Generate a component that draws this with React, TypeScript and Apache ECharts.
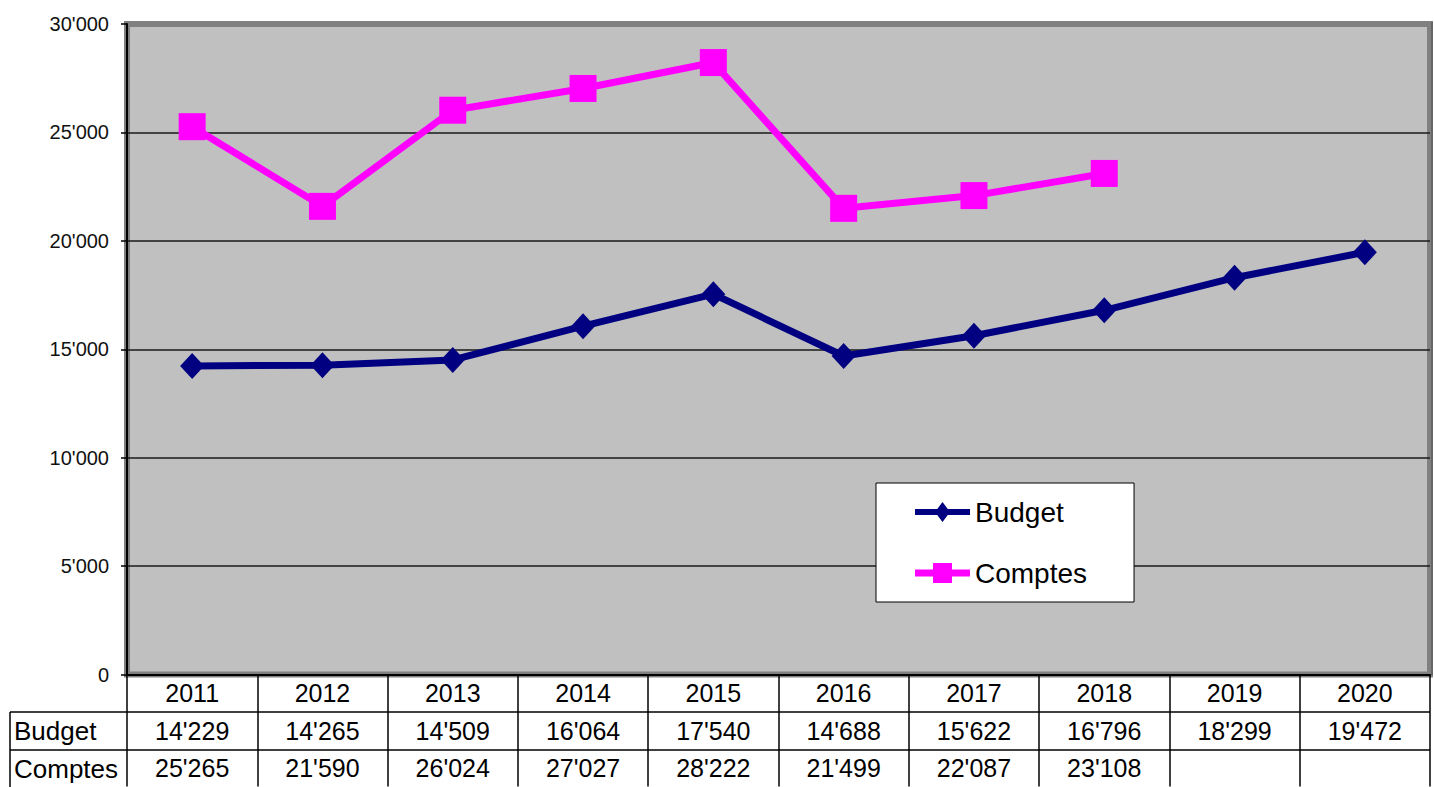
import React, { useEffect, useRef } from "react";
import * as echarts from "echarts";

const years = ["2011", "2012", "2013", "2014", "2015", "2016", "2017", "2018", "2019", "2020"];
const budget = [14229, 14265, 14509, 16064, 17540, 14688, 15622, 16796, 18299, 19472];
const comptes: (number | null)[] = [25265, 21590, 26024, 27027, 28222, 21499, 22087, 23108, null, null];
const yTicks = { min: 0, max: 30000, interval: 5000 };

const FONT = "'Liberation Sans', Arial, sans-serif";

const fmt = (v: number | null) =>
  v == null ? "" : String(v).replace(/\B(?=(\d{3})+(?!\d))/g, "'");

const budgetIcon =
  "path://M0 7L55 7L55 13L0 13Z M27.5 0L35 10L27.5 20L20 10Z";
const comptesIcon =
  "path://M0 6.5L55 6.5L55 13.5L0 13.5Z M18 0L37 0L37 20L18 20Z";

export default function App() {
  const ref = useRef<HTMLDivElement>(null);

  useEffect(() => {
    if (!ref.current) return;
    const chart = echarts.init(ref.current, undefined, { renderer: "svg" });
    chart.setOption({
      animation: false,
      backgroundColor: "#ffffff",
      textStyle: { fontFamily: FONT },
      grid: {
        left: 127,
        top: 24,
        width: 1303,
        height: 651,
        show: true,
        backgroundColor: "#C0C0C0",
        borderColor: "#808080",
        borderWidth: 6,
      },
      legend: {
        orient: "vertical",
        left: 876,
        top: 483,
        padding: [15, 47, 15, 39],
        itemWidth: 55,
        itemHeight: 20,
        itemGap: 33,
        backgroundColor: "#ffffff",
        borderColor: "#000000",
        borderWidth: 1,
        borderRadius: 0,
        textStyle: { fontSize: 28, color: "#000", fontFamily: FONT, lineHeight: 26 },
        data: [
          { name: "Budget", icon: budgetIcon },
          { name: "Comptes", icon: comptesIcon },
        ],
      },
      xAxis: {
        type: "category",
        data: years,
        boundaryGap: true,
        axisLine: { show: true, lineStyle: { color: "#000", width: 2 } },
        axisTick: {
          show: true,
          interval: 0,
          length: 112,
          lineStyle: { color: "#000", width: 1.5 },
        },
        axisLabel: {
          interval: 0,
          margin: 0,
          fontSize: 25,
          lineHeight: 37.5,
          color: "#000",
          fontFamily: FONT,
          formatter: (_v: string, i: number) =>
            `${years[i]}\n${fmt(budget[i])}\n${fmt(comptes[i])}`,
        },
        splitLine: { show: false },
      },
      yAxis: {
        type: "value",
        min: yTicks.min,
        max: yTicks.max,
        interval: yTicks.interval,
        axisLine: { show: true, lineStyle: { color: "#000", width: 2 } },
        axisTick: { show: true, length: 6, lineStyle: { color: "#000", width: 1.5 } },
        axisLabel: {
          fontSize: 20,
          margin: 18,
          color: "#111",
          fontFamily: FONT,
          formatter: (v: number) => fmt(v),
        },
        splitLine: {
          show: true,
          lineStyle: {
            color: ["#1a1a1a", "#1a1a1a", "#1a1a1a", "#1a1a1a", "#1a1a1a", "#1a1a1a", "#808080"],
            width: 1.5,
          },
        },
      },
      graphic: [
        { type: "line", shape: { x1: 1432, y1: 22, x2: 1432, y2: 675 }, style: { stroke: "#666", lineWidth: 2 } },
        { type: "line", shape: { x1: 10, y1: 712, x2: 1430, y2: 712 }, style: { stroke: "#000", lineWidth: 1.5 } },
        { type: "line", shape: { x1: 10, y1: 750, x2: 1430, y2: 750 }, style: { stroke: "#000", lineWidth: 1.5 } },
        { type: "line", shape: { x1: 10, y1: 712, x2: 10, y2: 787 }, style: { stroke: "#000", lineWidth: 1.5 } },
        {
          type: "text",
          x: 14,
          y: 731,
          style: { text: "Budget", fontSize: 26, fontFamily: FONT, fill: "#000", verticalAlign: "middle", align: "left" },
        },
        {
          type: "text",
          x: 14,
          y: 769,
          style: { text: "Comptes", fontSize: 26, fontFamily: FONT, fill: "#000", verticalAlign: "middle", align: "left" },
        },
      ],
      series: [
        {
          name: "Budget",
          type: "line",
          data: budget,
          color: "#000080",
          symbol: "diamond",
          symbolSize: [24, 26],
          lineStyle: { width: 7, color: "#000080" },
          itemStyle: { color: "#000080" },
          z: 3,
        },
        {
          name: "Comptes",
          type: "line",
          data: comptes,
          color: "#FF00FF",
          symbol: "rect",
          symbolSize: 27,
          lineStyle: { width: 7, color: "#FF00FF" },
          itemStyle: { color: "#FF00FF" },
          z: 4,
        },
      ],
    });
    return () => chart.dispose();
  }, []);

  return (
    <div
      ref={ref}
      style={{ position: "absolute", left: 0, top: 0, width: 1434, height: 787 }}
    />
  );
}
